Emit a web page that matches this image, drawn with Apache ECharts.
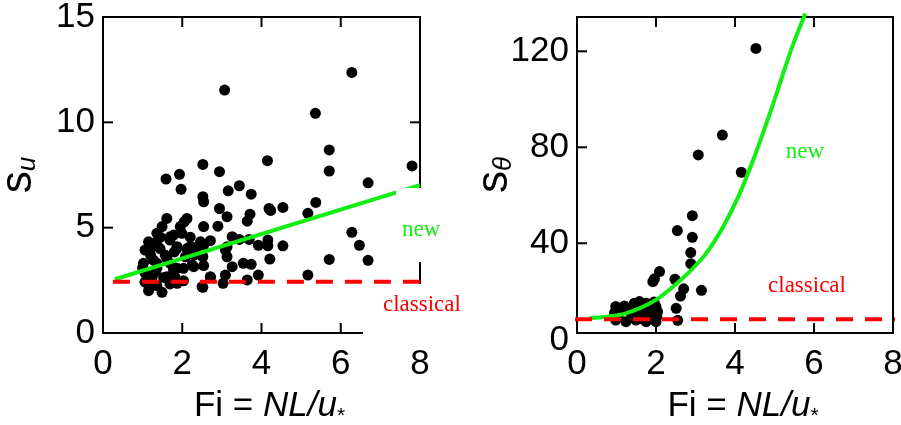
<!DOCTYPE html>
<html><head><meta charset="utf-8">
<script src="https://cdn.jsdelivr.net/npm/echarts@6/dist/echarts.min.js"></script>
<style>html,body{margin:0;padding:0;background:#fff}#c{width:901px;height:425px}</style>
</head><body><div id="c"></div><script>
// ---- data: left panel (s_u vs Fi) ----
const suPoints = [
 [3.07,11.53],[6.28,12.37],[5.36,10.43],[5.71,8.69],[5.71,7.69],[7.80,7.93],[6.69,7.13],[4.15,8.18],
 [5.37,6.20],[5.17,5.68],[4.54,5.96],[4.19,5.91],[4.23,5.82],[4.54,4.14],[4.16,4.41],[4.16,4.14],
 [3.92,4.16],[4.21,3.51],[6.28,4.78],[6.47,4.16],[6.69,3.45],[5.71,3.49],[5.17,2.75],[3.92,2.75],
 [3.64,2.52],[3.74,3.26],[3.54,3.31],[3.26,3.15],[3.09,2.75],[3.03,2.36],[2.71,2.64],[2.52,2.17],
 [2.54,3.20],[2.52,3.62],[3.13,3.62],[3.09,3.94],[3.13,4.09],[3.26,4.57],[3.44,4.44],[3.69,4.44],
 [2.71,4.38],[2.54,4.16],[2.37,4.09],[2.54,5.05],[2.90,5.07],[3.13,5.52],[3.64,5.31],[3.71,5.64],
 [2.94,5.91],[2.54,6.23],[2.52,6.47],[3.16,6.75],[3.44,6.99],[3.74,6.59],[2.94,7.66],[2.52,8.00],
 [1.93,7.53],[1.59,7.31],[1.97,6.82],
 [2.12,5.44],[2.05,5.28],[1.61,5.44],[1.49,5.05],[1.36,4.73],[1.78,4.65],[1.99,4.73],[1.69,4.41],
 [1.23,4.09],[1.06,3.94],[1.44,4.01],[1.86,4.01],[2.12,4.01],[1.61,3.54],[1.36,3.31],[1.02,3.31],
 [2.29,3.15],[2.03,3.07],[1.78,3.00],[1.32,2.93],[1.06,2.85],[1.53,2.64],[2.03,2.48],[1.69,2.33],
 [1.15,2.01],[1.49,1.93],[1.36,2.25],[1.06,2.41],[1.82,2.64],
 [1.15,4.33],[1.36,4.33],[1.70,4.57],[1.87,4.10],[2.20,4.10],[2.46,4.33],[1.57,3.70],[2.08,3.62],
 [2.25,3.23],[1.87,3.07],[1.36,3.07],[1.11,2.67],[1.61,2.67],[1.27,2.36],[1.87,2.36],[2.50,2.20],
 [2.71,2.67],[1.27,3.46],[1.11,3.94],[1.20,3.70],[2.30,3.70],[1.00,3.10],[1.70,3.30],[1.95,5.05],
 [2.20,4.55],[1.45,4.55],[1.80,3.85],[1.25,2.70]
];
const newLineLeft = [[0.3,2.55],[8.0,7.02]];
const classicalLeft = [[0.25,2.43],[8.0,2.43]];

// ---- data: right panel (s_theta vs Fi) ----
const sThetaPoints = [
 [4.53,121.2],[3.68,85.1],[3.07,76.8],[4.16,69.6],[2.92,51.5],[2.54,45.3],[2.92,42.5],[2.88,36.1],
 [2.88,31.5],[2.09,28.2],[1.96,25.2],[1.92,24.0],[2.48,25.0],[2.70,21.0],[2.62,18.0],[3.15,20.4],
 [2.51,12.9],[2.55,7.9],
 [0.98,13.6],[1.20,13.9],[1.45,15.0],[1.58,15.7],[1.75,15.0],[2.00,13.6],[2.04,11.5],[2.02,9.4],
 [2.00,7.3],[0.98,8.0],[1.24,7.3],[1.49,8.0],[1.75,7.3],[1.88,10.1],[1.07,10.8],[1.37,10.8],
 [1.62,11.5],[1.83,12.9],[1.28,12.9],[1.52,10.1],[1.10,12.0],[1.65,8.5],[1.95,15.5],[0.95,11.0]
];
const newCurveRight = [
 [0.31,8.7],[1.07,10.1],[1.58,12.9],[2.0,16.4],[2.43,21.9],[2.85,28.2],[3.27,35.8],[3.70,46.9],
 [4.12,60.8],[4.46,74.7],[4.72,86.5],[4.97,98.3],[5.22,110.8],[5.48,123.3],[5.78,135.8]
];
const classicalRight = [[-0.05,8.3],[8.2,8.3]];

// ---- axes ----
const xRange = [0, 8], xStep = 2;
const xTickValues = [2, 4, 6];
const leftYRange = [0, 15], leftYStep = 5;
const leftYTickValues = [5, 10];
const rightYRange = [2.6, 134.3];
const rightYTicks = [40, 80, 120];
const rightYLabels = [2.6, 40, 80, 120]; // bottom edge is labelled "0" in the reference

const SANS = '"Liberation Sans", Arial, sans-serif';
const SERIF = '"Liberation Serif", "Times New Roman", serif';
const GREEN = '#11ee11', RED = '#ff0000';
const TICK_LEN = 10;
const noLine = {show: false};
const noTick = {show: false};
const mkLbl = (extra) => Object.assign({color: '#000', fontFamily: SANS, fontSize: 35}, extra || {});

const xName = '{a|Fi = }{b|NL/u}{c|*}';
const mkXNameStyle = () => ({
  padding: [0, 0, 0, 16],
  rich: {
    a: {fontFamily: SANS, fontSize: 35, lineHeight: 30, color: '#000'},
    b: {fontFamily: SANS, fontSize: 35, lineHeight: 30, fontStyle: 'italic', color: '#000'},
    c: {fontFamily: SANS, fontSize: 21, lineHeight: 21, color: '#000', verticalAlign: 'bottom', padding: [0,0,-6,0]}
  }
});
const mkYNameStyle = () => ({rich: {
  a: {fontFamily: SANS, fontSize: 44, lineHeight: 44, color: '#000'},
  b: {fontFamily: SANS, fontSize: 26, lineHeight: 26, fontStyle: 'italic', color: '#000', verticalAlign: 'bottom'}
}});
const frame = {show: true, borderColor: '#000', borderWidth: 2, backgroundColor: 'transparent',
               outerBoundsMode: 'none', containLabel: false};

// inward tick marks drawn through the axes' own scales (api.coord)
// data item: [value, kind] with kind 0 = x tick (bottom+top), 1 = y tick (left [+right])
function tickSeries(axisIdx, xr, yr, xVals, yVals, rightTicks) {
  const data = xVals.map(v => [v, 0]).concat(yVals.map(v => [v, 1]));
  return {
    type: 'custom', xAxisIndex: axisIdx, yAxisIndex: axisIdx, data, silent: true, clip: false, z: 6,
    renderItem(params, api) {
      const v = api.value(0), kind = api.value(1);
      const st = {stroke: '#000', lineWidth: 2};
      const kids = [];
      if (kind === 0) {
        const b = api.coord([v, yr[0]]), t = api.coord([v, yr[1]]);
        kids.push({type: 'line', shape: {x1: b[0], y1: b[1], x2: b[0], y2: b[1] - TICK_LEN}, style: st});
        kids.push({type: 'line', shape: {x1: t[0], y1: t[1], x2: t[0], y2: t[1] + TICK_LEN}, style: st});
      } else {
        const l = api.coord([xr[0], v]), r = api.coord([xr[1], v]);
        kids.push({type: 'line', shape: {x1: l[0], y1: l[1], x2: l[0] + TICK_LEN, y2: l[1]}, style: st});
        if (rightTicks) kids.push({type: 'line', shape: {x1: r[0], y1: r[1], x2: r[0] - TICK_LEN, y2: r[1]}, style: st});
      }
      return {type: 'group', children: kids};
    }
  };
}

const chart = echarts.init(document.getElementById('c'), null, {renderer: 'canvas'});
chart.setOption({
  animation: false,
  backgroundColor: '#fff',
  grid: [
    Object.assign({left: 103, top: 17, width: 317, height: 316}, frame),
    Object.assign({left: 577, top: 17, width: 316, height: 316}, frame)
  ],
  xAxis: [
    {gridIndex: 0, type: 'value', position: 'bottom', min: xRange[0], max: xRange[1], interval: xStep,
     axisLine: noLine, axisTick: noTick, splitLine: {show: false}, axisLabel: mkLbl({margin: 14}),
     name: xName, nameLocation: 'middle', nameGap: 58, nameMoveOverlap: false, nameTextStyle: mkXNameStyle()},
    {gridIndex: 1, type: 'value', position: 'bottom', min: xRange[0], max: xRange[1], interval: xStep,
     axisLine: noLine, axisTick: noTick, splitLine: {show: false}, axisLabel: mkLbl({margin: 14}),
     name: xName, nameLocation: 'middle', nameGap: 58, nameMoveOverlap: false, nameTextStyle: mkXNameStyle()}
  ],
  yAxis: [
    {gridIndex: 0, type: 'value', position: 'left', min: leftYRange[0], max: leftYRange[1], interval: leftYStep,
     axisLine: noLine, axisTick: noTick, splitLine: {show: false}, axisLabel: mkLbl({margin: 8}),
     name: '{a|s}{b|u}', nameLocation: 'middle', nameRotate: 90, nameGap: 62, nameMoveOverlap: false,
     nameTextStyle: mkYNameStyle()},
    {gridIndex: 1, type: 'value', position: 'left', min: rightYRange[0], max: rightYRange[1],
     axisLine: noLine, axisTick: noTick, splitLine: {show: false},
     axisLabel: mkLbl({margin: 8, customValues: rightYLabels,
                 formatter: v => v < 10 ? '{z|0}' : String(v),
                 rich: {z: {fontFamily: SANS, fontSize: 35, color: '#000', padding: [14, 0, 0, 0]}}}),
     name: '{a|s}{b|θ}', nameLocation: 'middle', nameRotate: 90, nameGap: 60, nameMoveOverlap: false,
     nameTextStyle: mkYNameStyle()}
  ],
  series: [
    {type: 'scatter', xAxisIndex: 0, yAxisIndex: 0, data: suPoints, symbolSize: 11,
     itemStyle: {color: '#000', opacity: 1}, z: 3},
    {type: 'line', xAxisIndex: 0, yAxisIndex: 0, data: newLineLeft, symbol: 'none',
     lineStyle: {color: GREEN, width: 4}, z: 4},
    {type: 'line', xAxisIndex: 0, yAxisIndex: 0, data: classicalLeft, symbol: 'none',
     lineStyle: {color: RED, width: 4, type: [17, 12]}, z: 4},
    {type: 'scatter', xAxisIndex: 1, yAxisIndex: 1, data: sThetaPoints, symbolSize: 11,
     itemStyle: {color: '#000', opacity: 1}, z: 3},
    {type: 'line', xAxisIndex: 1, yAxisIndex: 1, data: newCurveRight, symbol: 'none', smooth: 0.3, clip: false,
     lineStyle: {color: GREEN, width: 4}, z: 4},
    {type: 'line', xAxisIndex: 1, yAxisIndex: 1, data: classicalRight, symbol: 'none', clip: false,
     lineStyle: {color: RED, width: 4, type: [17, 12]}, z: 4},
    tickSeries(0, xRange, leftYRange, xTickValues, leftYTickValues, true),
    tickSeries(1, xRange, rightYRange, xTickValues, rightYTicks, false)
  ],
  graphic: [
    {type: 'text', x: 396, y: 188, z: 100,
     style: {text: 'new', font: '23px ' + SERIF, fill: GREEN, align: 'left', verticalAlign: 'top',
             backgroundColor: '#fff', padding: [30, 6, 21, 6]}},
    {type: 'text', x: 363, y: 284, z: 100,
     style: {text: 'classical', font: '23px ' + SERIF, fill: RED, align: 'left', verticalAlign: 'top',
             backgroundColor: '#fff', padding: [9, 8, 22, 20]}},
    {type: 'text', x: 805, y: 152, z: 100,
     style: {text: 'new', font: '23px ' + SERIF, fill: GREEN, align: 'center', verticalAlign: 'middle'}},
    {type: 'text', x: 807, y: 286, z: 100,
     style: {text: 'classical', font: '23px ' + SERIF, fill: RED, align: 'center', verticalAlign: 'middle'}}
  ]
});
</script></body></html>
